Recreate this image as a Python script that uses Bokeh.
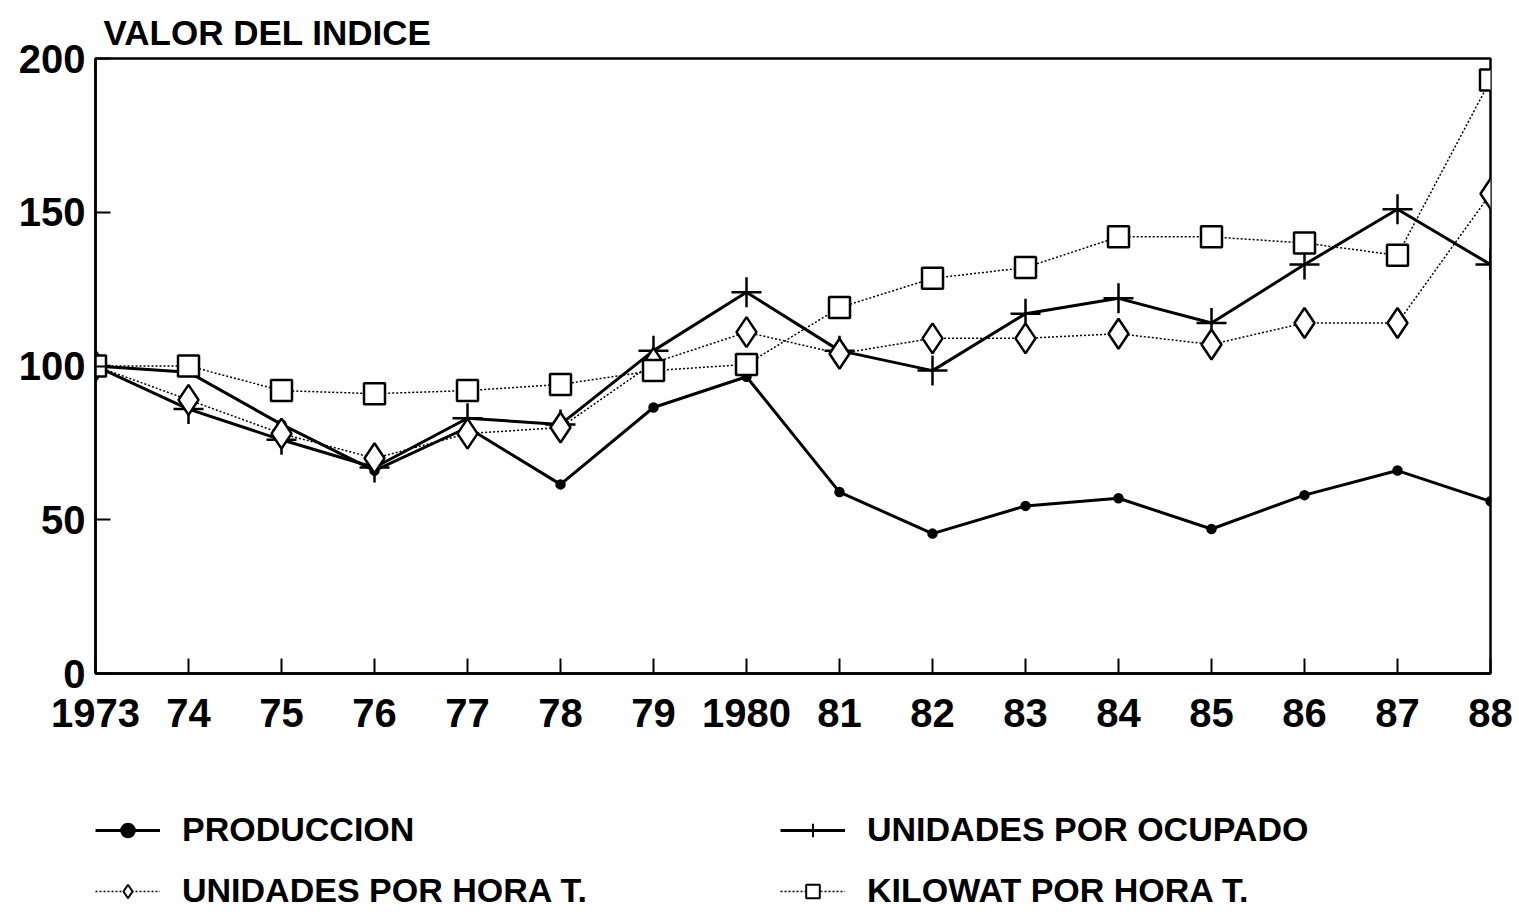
from bokeh.plotting import figure
from bokeh.layouts import column
from bokeh.models import Range1d, FixedTicker, Legend, LegendItem, ColumnDataSource
from bokeh.embed import file_html
from bokeh.resources import INLINE

# ---- data ----
years = [1973, 1974, 1975, 1976, 1977, 1978, 1979, 1980,
         1981, 1982, 1983, 1984, 1985, 1986, 1987, 1988]
tick_labels = ["1973", "74", "75", "76", "77", "78", "79", "1980",
               "81", "82", "83", "84", "85", "86", "87", "88"]
produccion = [100, 98, 81, 66, 80, 61.5, 86.5, 96.5, 59, 45.5, 54.5, 57, 47, 58, 66, 56]
unid_ocupado = [100, 86, 76, 67, 83, 81, 105, 124, 105, 98.5, 117, 122, 114, 133, 151, 133]
unid_hora = [100, 89, 78, 70, 78, 80, 101, 111, 104, 109, 109, 110.5, 107, 114, 114, 156]
kilowat_hora = [100, 100, 92, 91, 92, 94, 98.5, 100.5, 119, 128.5, 132, 142, 142, 140, 136, 193]
y_ticks = [0, 50, 100, 150, 200]
series_names = ["PRODUCCION", "UNIDADES POR OCUPADO", "UNIDADES POR HORA T.", "KILOWAT POR HORA T."]

FONT = "Liberation Sans"

src = ColumnDataSource(dict(x=years, prod=produccion, ocu=unid_ocupado,
                            hora=unid_hora, kw=kilowat_hora))

p = figure(width=1515, height=744, output_backend="svg", toolbar_location=None,
           x_range=Range1d(1973, 1988), y_range=Range1d(0, 200),
           min_border_left=95, min_border_right=25, min_border_top=58,
           min_border_bottom=71, title="VALOR DEL INDICE")

p.background_fill_color = "white"
p.border_fill_color = "white"
p.outline_line_color = "black"
p.outline_line_width = 2.5
p.xgrid.visible = False
p.ygrid.visible = False

p.title.text_font = FONT
p.title.text_font_size = "35px"
p.title.text_font_style = "bold"
p.title.text_color = "black"
p.title.align = "left"
p.title.vertical_align = "top"
p.title.offset = 8
p.title.standoff = 10

# axes
p.xaxis.ticker = FixedTicker(ticks=years)
p.xaxis.major_label_overrides = {y: t for y, t in zip(years, tick_labels)}
p.yaxis.ticker = FixedTicker(ticks=y_ticks)
for ax in (p.xaxis, p.yaxis):
    ax.axis_line_width = 2.5
    ax.axis_line_color = "black"
    ax.major_tick_line_width = 2
    ax.major_tick_line_color = "black"
    ax.major_tick_in = 15
    ax.major_tick_out = 0
    ax.minor_tick_line_color = None
    ax.major_label_text_font = FONT
    ax.major_label_text_font_size = "40px"
    ax.major_label_text_font_style = "bold"
    ax.major_label_text_color = "black"
p.xaxis.major_label_standoff = 25
p.yaxis.major_label_standoff = 10

# series styles
styles = [
    dict(line_width=3, line_dash="solid", marker="circle", size=8, fill_color="black"),
    dict(line_width=3, line_dash="solid", marker="cross", size=30, fill_color="white"),
    dict(line_width=1.5, line_dash="2 2", marker="diamond", size=30, fill_color="white"),
    dict(line_width=1.5, line_dash="2 2", marker="square", size=21, fill_color="white"),
]
cols = ["prod", "ocu", "hora", "kw"]

for c, st in zip(cols, styles):
    p.line("x", c, source=src, line_color="black", line_width=st["line_width"],
           line_dash=st["line_dash"])
for c, st in zip(cols, styles):
    p.scatter("x", c, source=src, marker=st["marker"], size=st["size"],
              fill_color=st["fill_color"], line_color="black", line_width=2.5)

# ---- legend panel (separate figure below the chart) ----
# its ranges keep the series out of view; only the legend shows
p2 = figure(width=1515, height=168, output_backend="svg", toolbar_location=None,
            x_range=Range1d(0, 1), y_range=Range1d(0, 1),
            min_border_left=0, min_border_right=0, min_border_top=0, min_border_bottom=0)
p2.axis.visible = False
p2.grid.visible = False
p2.outline_line_color = None
p2.background_fill_color = "white"
p2.border_fill_color = "white"

items = []
for name, c, st in zip(series_names, cols, styles):
    lr = p2.line("x", c, source=src, line_color="black", line_width=st["line_width"],
                 line_dash=st["line_dash"])
    mr = p2.scatter("x", c, source=src, marker=st["marker"], size=st["size"] * 0.7,
                    fill_color=st["fill_color"], line_color="black", line_width=2)
    items.append(LegendItem(label=name, renderers=[lr, mr]))

legend = Legend(items=items, orientation="horizontal", ncols=2)
legend.location = (0, 2)
legend.margin = 0
legend.padding = 0
legend.border_line_alpha = 0
legend.background_fill_alpha = 0
legend.glyph_width = 65
legend.glyph_height = 34
legend.label_height = 34
legend.label_standoff = 22
legend.spacing = 22
legend.label_width = 576
legend.label_text_font = FONT
legend.label_text_font_size = "34px"
legend.label_text_font_style = "bold"
legend.label_text_color = "black"
p2.add_layout(legend, "center")

open("out.html", "w").write(file_html(column(p, p2, spacing=0), INLINE))
